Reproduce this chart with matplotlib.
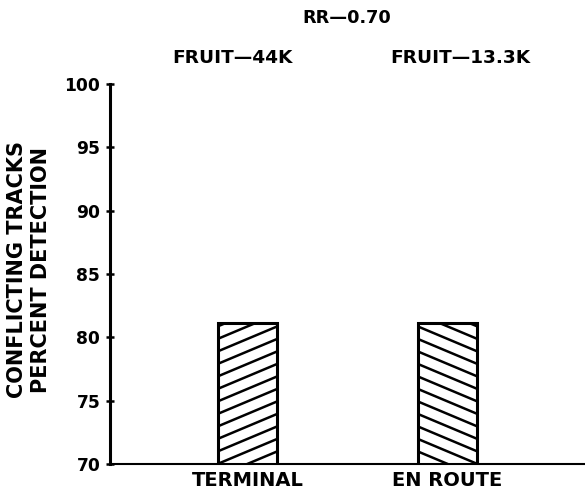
import matplotlib
matplotlib.use("Agg")
import matplotlib.pyplot as plt
import numpy as np

categories = ["TERMINAL", "EN ROUTE"]
values = [81.1, 81.1]
group_labels = ["FRUIT—44K", "FRUIT—13.3K"]
title = "RR—0.70"
ylabel_lines = ["CONFLICTING TRACKS", "PERCENT DETECTION"]
yticks = [70, 75, 80, 85, 90, 95, 100]
hatch_dirs = [1, -1]

plt.rcParams['font.family'] = ['DejaVu Sans']
plt.rcParams['font.weight'] = 'bold'

W, H = 585, 495
fig = plt.figure(figsize=(W / 100, H / 100), dpi=100)
ax = fig.add_axes([110 / W, (H - 464) / H, (W - 110) / W, (464 - 84) / H])

x = np.arange(len(categories))
bars = ax.bar(x, [v - 70 for v in values], bottom=70, width=0.295,
              facecolor='white', edgecolor='black', linewidth=2.2, zorder=3)
ax.set_xlim(-0.6875, 1.6875)
ax.set_ylim(70, 100)

ax.spines['top'].set_visible(False)
ax.spines['right'].set_visible(False)
ax.spines['left'].set_linewidth(2.2)
ax.spines['bottom'].set_linewidth(1.5)

ax.set_yticks(yticks)
ax.set_yticklabels([str(t) for t in yticks], fontsize=12.3, fontweight='bold')
ax.tick_params(axis='y', direction='inout', length=6, width=1.8, pad=4)
ax.set_xticks(x)
ax.set_xticklabels(categories, fontsize=14, fontweight='bold')
ax.tick_params(axis='x', length=0, pad=5)

# custom shallow hatching, clipped to bars
px = ax.transData.transform((1, 0))[0] - ax.transData.transform((0, 0))[0]
py = ax.transData.transform((0, 1))[1] - ax.transData.transform((0, 0))[1]
slope_px = 0.42
spacing_px = 12.5
for bar, d in zip(bars, hatch_dirs):
    x0 = bar.get_x()
    x1 = x0 + bar.get_width()
    y0 = bar.get_y()
    y1 = y0 + bar.get_height()
    slope = d * slope_px * px / py
    dy = spacing_px / py
    span = abs(slope) * (x1 - x0)
    for yy in np.arange(y0 - span, y1 + span, dy):
        xs = np.array([x0, x1])
        if d > 0:
            ys = yy + slope * (xs - x0)
        else:
            ys = yy + span + slope * (xs - x0)
        ln, = ax.plot(xs, ys, color='black', lw=1.8, zorder=4, solid_capstyle='butt')
        ln.set_clip_path(bar)

fig.text(347 / W, 1 - 18 / H, title, ha='center', va='center', fontsize=12.8, fontweight='bold')
fig.text(232 / W, 1 - 58 / H, group_labels[0], ha='center', va='center', fontsize=13.3, fontweight='bold')
fig.text(460 / W, 1 - 58 / H, group_labels[1], ha='center', va='center', fontsize=13.3, fontweight='bold')

fig.text(17 / W, 1 - 270 / H, ylabel_lines[0], rotation=90, ha='center', va='center', fontsize=15, fontweight='bold')
fig.text(41 / W, 1 - 270 / H, ylabel_lines[1], rotation=90, ha='center', va='center', fontsize=15, fontweight='bold')

fig.savefig("out.png", dpi=100)
